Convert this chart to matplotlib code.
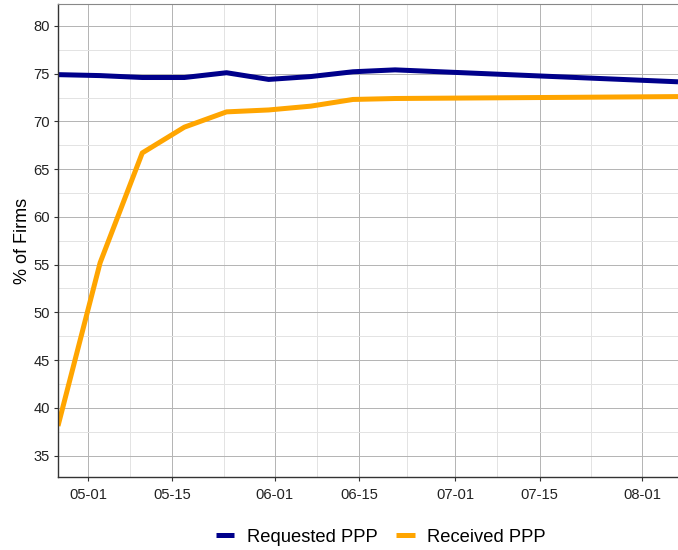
import matplotlib
matplotlib.use('Agg')
import matplotlib.pyplot as plt
import matplotlib.dates as mdates
import numpy as np
from matplotlib.ticker import MultipleLocator, FixedLocator

plt.rcParams['font.family'] = ['Liberation Sans', 'DejaVu Sans']

dates = ['2020-04-26', '2020-05-03', '2020-05-10', '2020-05-17', '2020-05-24',
         '2020-05-31', '2020-06-07', '2020-06-14', '2020-06-21', '2020-08-07']
requested = [74.9, 74.8, 74.6, 74.6, 75.1, 74.4, 74.7, 75.2, 75.4, 74.15]
received = [38.1, 55.2, 66.7, 69.4, 71.0, 71.2, 71.6, 72.3, 72.4, 72.6]

x = np.array(dates, dtype='datetime64[D]')

fig = plt.figure(figsize=(6.78, 5.5), dpi=100)
ax = fig.add_axes([58 / 678, 1 - 477 / 550, 1 - 58 / 678, 473 / 550])

ax.plot(x, requested, color='#00008B', lw=3.6, label='Requested PPP', solid_capstyle='butt')
ax.plot(x, received, color='#FFA500', lw=3.6, label='Received PPP', solid_capstyle='butt')

ax.set_xlim(np.datetime64('2020-04-26'), np.datetime64('2020-08-07'))
ax.set_ylim(32.75, 82.3)

major_x = np.array(['2020-05-01', '2020-05-15', '2020-06-01', '2020-06-15',
                    '2020-07-01', '2020-07-15', '2020-08-01'], dtype='datetime64[D]')
major_num = mdates.date2num(major_x)
minor_num = (major_num[:-1] + major_num[1:]) / 2
ax.xaxis.set_major_locator(FixedLocator(major_num))
ax.xaxis.set_minor_locator(FixedLocator(minor_num))
ax.xaxis.set_major_formatter(mdates.DateFormatter('%m-%d'))
ax.yaxis.set_major_locator(MultipleLocator(5))
ax.yaxis.set_minor_locator(MultipleLocator(2.5))

ax.grid(which='major', color='#b3b3b3', lw=0.7)
ax.grid(which='minor', color='#e3e3e3', lw=0.7)
ax.set_axisbelow(True)

ax.tick_params(which='major', length=3, width=0.8, color='#333333', labelsize=10.6,
               labelcolor='#222222', pad=3)
ax.tick_params(which='minor', length=0)
ax.tick_params(axis='x', pad=5)

for s in ['left', 'bottom']:
    ax.spines[s].set_color('#333333')
    ax.spines[s].set_linewidth(1.0)
ax.spines['top'].set_color('#888888')
ax.spines['right'].set_visible(False)

ax.set_ylabel('% of Firms', fontsize=13, labelpad=1.5)

fig.legend(loc='center', bbox_to_anchor=(0.562, 1 - 537 / 550), ncol=2, frameon=False,
           fontsize=13.2, handlelength=1.0, handletextpad=0.7, columnspacing=1.0)

fig.savefig('out.png', dpi=100)
